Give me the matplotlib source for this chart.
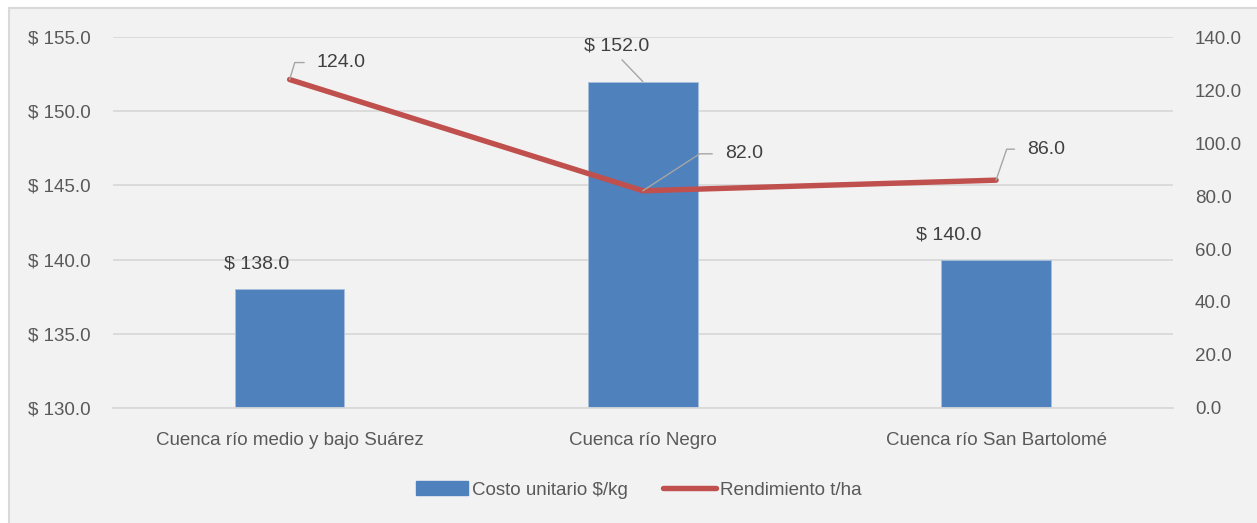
import matplotlib.pyplot as plt
from matplotlib.patches import Rectangle

categories = ['Cuenca río medio y bajo Suárez', 'Cuenca río Negro', 'Cuenca río San Bartolomé']
costo = [138.0, 152.0, 140.0]
rendimiento = [124.0, 82.0, 86.0]
left_ticks = [130, 135, 140, 145, 150, 155]
right_ticks = [0, 20, 40, 60, 80, 100, 120, 140]

BLUE = '#4F81BD'
RED = '#C0504D'
TXT = '#595959'
LAB = '#404040'
LEAD = '#A6A6A6'
FS = 13.5
FS_LAB = 14

plt.rcParams['font.family'] = ['Liberation Sans Narrow', 'Liberation Sans', 'DejaVu Sans']

fig = plt.figure(figsize=(12.57, 5.23), dpi=100)
fig.patch.set_facecolor('white')
# chart area frame, open to the right and bottom like the source crop
fig.patches.append(Rectangle((0.0068, -0.05), 1.05, 1.035, transform=fig.transFigure,
                             facecolor='#F2F2F2', edgecolor='#D9D9D9', lw=1.5, zorder=-10))

ax = fig.add_axes([0.0899, 0.22, 0.843, 0.709])
ax.set_facecolor('none')
x = list(range(len(categories)))
ax.bar(x, costo, width=0.31, color=BLUE, edgecolor='#A7C0DE', lw=0.6, zorder=2)
ax.set_ylim(130, 155)
ax.set_xlim(-0.5, 2.5)
ax.set_yticks(left_ticks)
ax.set_yticklabels([f'$ {v:.1f}' for v in left_ticks])
ax.set_xticks(x)
ax.set_xticklabels(categories)
ax.grid(axis='y', color='#D9D9D9', lw=1.3, zorder=0)
for s in ax.spines.values():
    s.set_visible(False)
ax.spines['bottom'].set_visible(True)
ax.spines['bottom'].set_color('#D9D9D9')
ax.spines['bottom'].set_linewidth(1.3)
ax.tick_params(length=0, labelsize=FS, labelcolor=TXT, pad=16)
ax.tick_params(axis='x', pad=17)

ax2 = ax.twinx()
ax2.plot(x, rendimiento, color=RED, lw=3.9, solid_capstyle='round', zorder=3)
ax2.set_ylim(0, 140)
ax2.set_yticks(right_ticks)
ax2.set_yticklabels([f'{v:.1f}' for v in right_ticks])
for s in ax2.spines.values():
    s.set_visible(False)
ax2.tick_params(length=0, labelsize=FS, labelcolor=TXT, pad=16)

# bar labels (offsets in points)
bar_offsets = [(-24, 18), (-19, 26), (-34, 18)]
for xi, yi, (dx, dy) in zip(x, costo, bar_offsets):
    arrow = None
    if xi == 1:
        arrow = dict(arrowstyle='-', color=LEAD, lw=1, shrinkA=3, shrinkB=0, relpos=(0.5, 0))
    ax.annotate(f'$ {yi:.1f}', (xi, yi), xytext=(dx, dy), textcoords='offset points',
                ha='center', va='center', fontsize=FS_LAB, color=LAB, arrowprops=arrow)

# line labels with elbow leaders
line_offsets = [(19.5, 12.2, 73), (59, 26.6, 33), (22.3, 22.3, 71)]
for xi, yi, (dx, dy, ang) in zip(x, rendimiento, line_offsets):
    ax2.annotate(f'{yi:.1f}', (xi, yi), xytext=(dx, dy), textcoords='offset points',
                 ha='left', va='center', fontsize=FS_LAB, color=LAB,
                 arrowprops=dict(arrowstyle='-', color=LEAD, lw=1, shrinkA=7, shrinkB=0,
                                 connectionstyle=f'angle,angleA=0,angleB={ang},rad=0',
                                 relpos=(0, 0.5)))

handles = [plt.Rectangle((0, 0), 1, 1, color=BLUE),
           plt.Line2D([0], [0], color=RED, lw=3.9, solid_capstyle='round')]
fig.legend(handles, ['Costo unitario $/kg', 'Rendimiento t/ha'], loc='center',
           bbox_to_anchor=(0.508, 0.063), ncol=2, frameon=False, fontsize=FS,
           labelcolor=TXT, handlelength=2.8, handletextpad=0.2, columnspacing=1.9)

fig.savefig('out.png', dpi=100, facecolor=fig.get_facecolor())
